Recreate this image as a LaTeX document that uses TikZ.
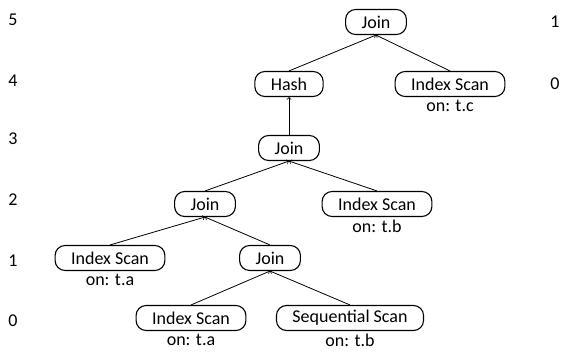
\documentclass[tikz,border=0pt]{standalone}
\usepackage{fontspec}
\setmainfont{Carlito}
\usetikzlibrary{positioning}

\begin{document}
\begin{tikzpicture}[y=-1pt,x=1pt]
	\tikzset{
		op/.style={draw, rounded corners=10pt, line width=1.1pt, minimum height=25pt, inner xsep=16pt, inner ysep=2pt, font=\fontsize{18}{20}\selectfont},
		on/.style={font=\fontsize{18}{20}\selectfont, inner sep=1pt},
		lvl/.style={font=\fontsize{18}{20}\selectfont},
		edge/.style={->, line width=0.8pt}
	}
	\useasboundingbox (0,0) rectangle (561,352);

	% level numbers
	\node[lvl] (l5) at (13,20) {5};
	\node[lvl] (l4) at (13,81) {4};
	\node[lvl] (l3) at (13,139) {3};
	\node[lvl] (l2) at (13,200) {2};
	\node[lvl] (l1) at (13,261) {1};
	\node[lvl] (l0) at (13,321) {0};
	\node[lvl] (r1) at (555,22) {1};
	\node[lvl] (r0) at (555,84) {0};

	% operators
	\node[op] (join5) at (376,22) {Join};
	\node[op] (hash) at (289,84) {Hash};
	\node[op] (isc) at (450,84) {Index Scan};
	\node[op] (join3) at (289,148) {Join};
	\node[op] (join2) at (205,204) {Join};
	\node[op] (isb) at (377,204) {Index Scan};
	\node[op] (isa1) at (110,258) {Index Scan};
	\node[op] (join1) at (270,258) {Join};
	\node[op] (isa0) at (191,318) {Index Scan};
	\node[op] (ssb) at (350,318) {Sequential Scan};

	% tables
	\node[on, below=2pt of isc] (onc) {on: t.c};
	\node[on, below=2pt of isb] (onb1) {on: t.b};
	\node[on, below=2pt of isa1] (ona1) {on: t.a};
	\node[on, below=2pt of isa0] (ona0) {on: t.a};
	\node[on, below=2pt of ssb] (onb0) {on: t.b};

	% edges
	\draw[edge] (hash.north) -- (join5.south);
	\draw[edge] (isc.north) -- (join5.south);
	\draw[edge] (join3.north) -- (hash.south);
	\draw[edge] (join2.north) -- (join3.south);
	\draw[edge] (isb.north) -- (join3.south);
	\draw[edge] (isa1.north) -- (join2.south);
	\draw[edge] (join1.north) -- (join2.south);
	\draw[edge] (isa0.north) -- (join1.south);
	\draw[edge] (ssb.north) -- (join1.south);
\end{tikzpicture}
\end{document}
